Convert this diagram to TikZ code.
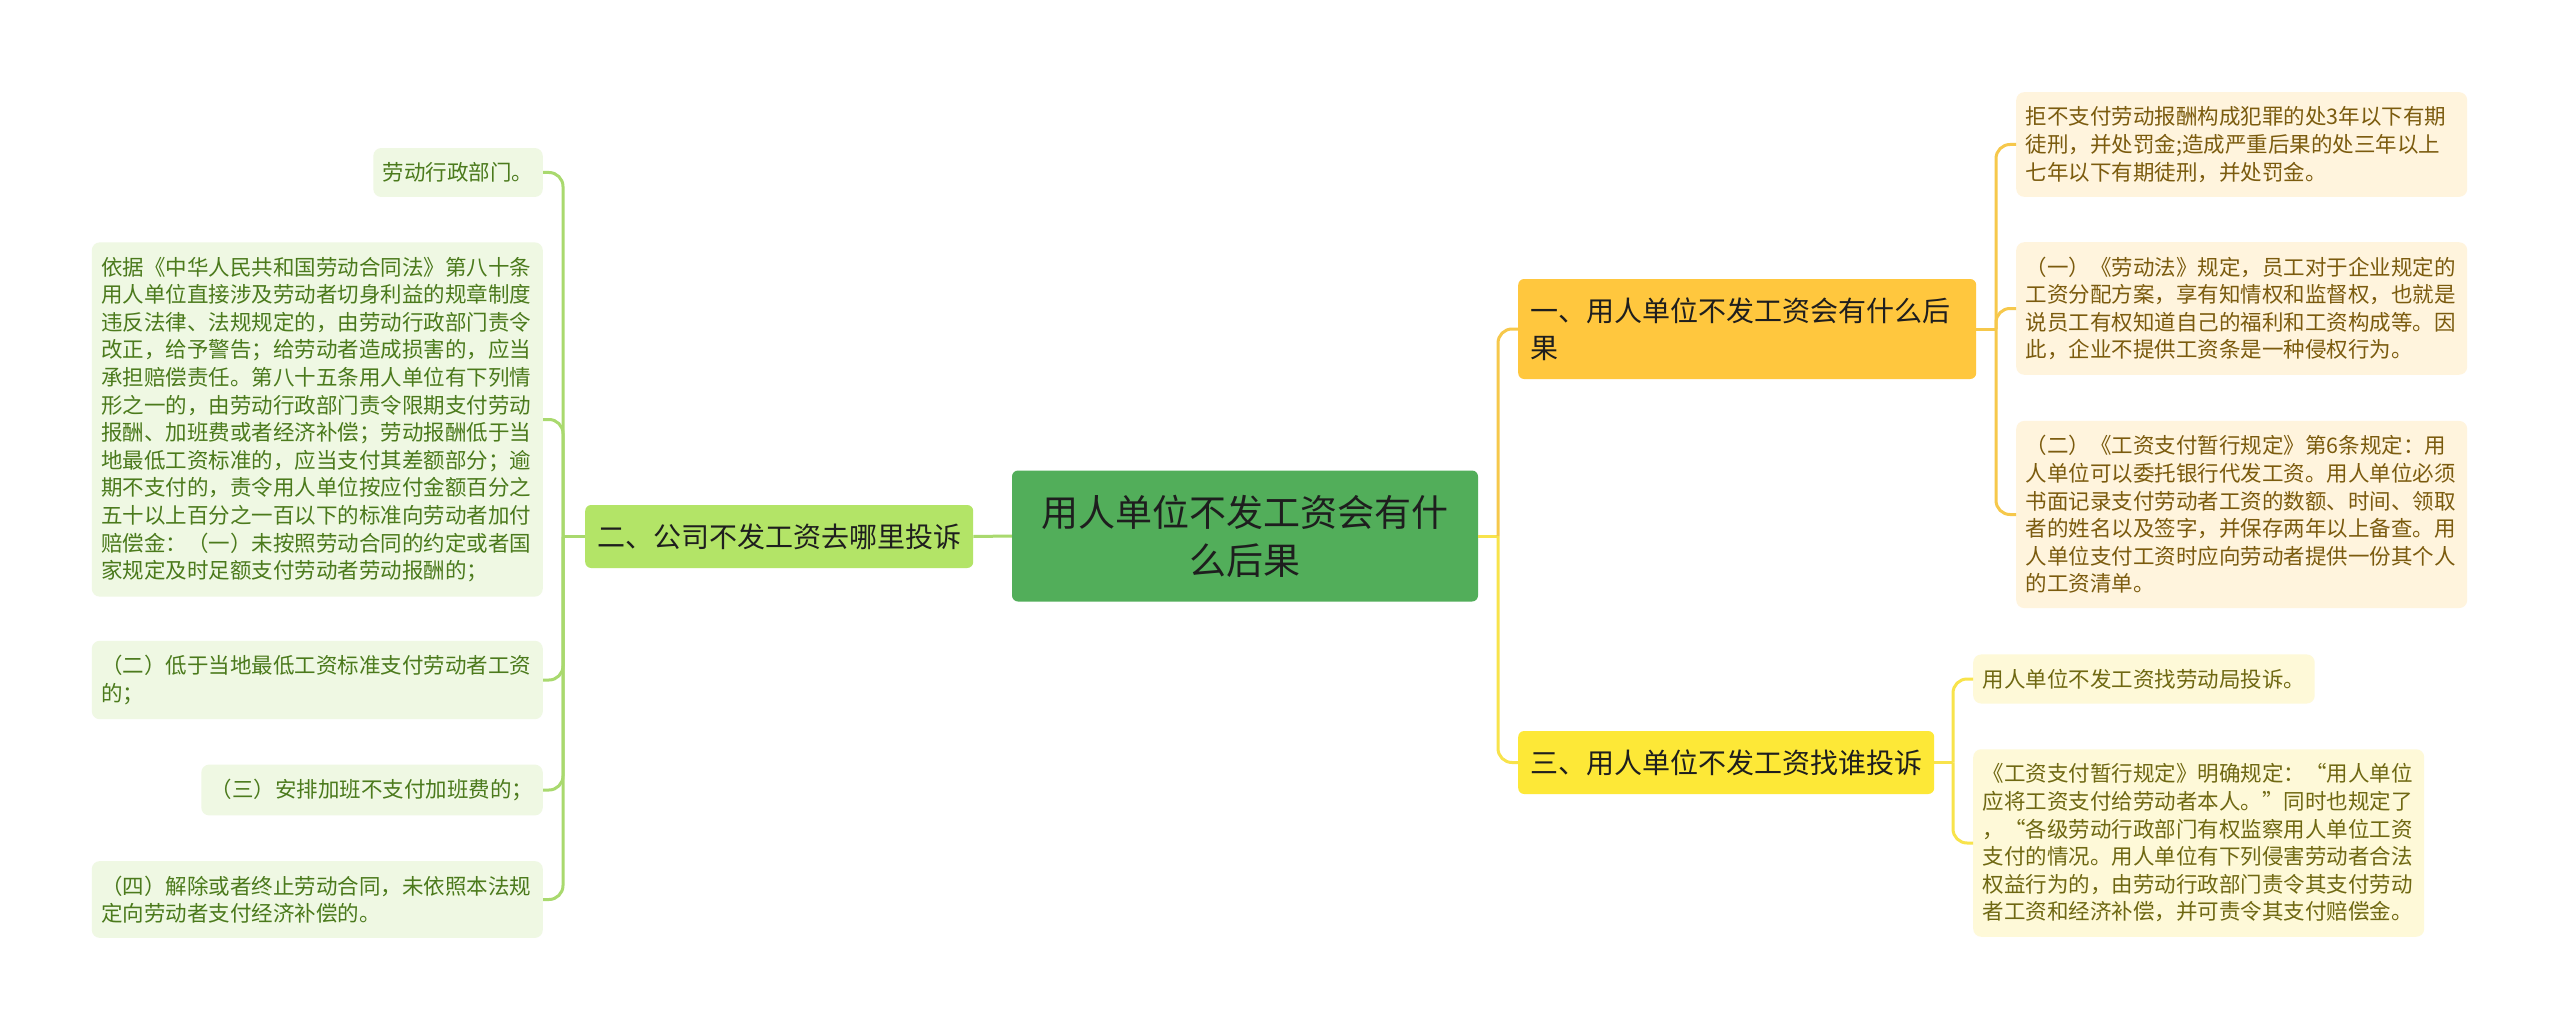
\documentclass[tikz,border=0pt]{standalone}
\usepackage{fontspec}
\setmainfont{Noto Sans CJK SC}
\usepackage{tikz}
\definecolor{rootfill}{HTML}{52AE5A}
\definecolor{limefill}{HTML}{B3E467}
\definecolor{orangefill}{HTML}{FFC73E}
\definecolor{yellowfill}{HTML}{FDE837}
\definecolor{limeleaf}{HTML}{EFF8E3}
\definecolor{orangeleaf}{HTML}{FFF4DD}
\definecolor{yellowleaf}{HTML}{FEF9D8}
\definecolor{limeink}{HTML}{4B7A1C}
\definecolor{orangeink}{HTML}{7B5B0E}
\definecolor{yellowink}{HTML}{6F6812}
\definecolor{darkink}{HTML}{1E1E1E}
\definecolor{limeline}{HTML}{A9D96E}
\definecolor{orangeline}{HTML}{F6C84B}
\definecolor{yellowline}{HTML}{F8E34B}
\tikzset{
	rootbox/.style={fill=rootfill, rounded corners=6pt, minimum width=466pt, minimum height=131pt, align=center, text=darkink, font=\fontsize{37}{48}\selectfont},
	topicbox/.style={rounded corners=6pt, inner xsep=12pt, minimum height=63pt, align=left, text=darkink, font=\fontsize{28}{37}\selectfont, anchor=west},
	leafbox/.style={rounded corners=8pt, inner xsep=9.5pt, inner ysep=14.5pt, align=left, font=\fontsize{21.5}{27.6}\selectfont},
	wide/.style={text width=432pt},
	limeleafbox/.style={leafbox, fill=limeleaf, text=limeink, anchor=east},
	orangeleafbox/.style={leafbox, fill=orangeleaf, text=orangeink, anchor=west},
	yellowleafbox/.style={leafbox, fill=yellowleaf, text=yellowink, anchor=west},
	link/.style={line width=3pt},
	elbowlink/.style={link, rounded corners=14pt}
}

\begin{document}
\begin{tikzpicture}[x=1pt, y=-1pt]
	\useasboundingbox (0,0) rectangle (2560,1030);
	\fill[white] (0,0) rectangle (2560,1030);

	\node (root) at (1245,536) [rootbox] {用人单位不发工资会有什\\么后果};

	\node (q1) at (1518,329) [topicbox, fill=orangefill, text width=434pt, minimum height=100pt] {一、用人单位不发工资会有什么后\\果};
	\node (q2) at (585,536.5) [topicbox, fill=limefill] {二、公司不发工资去哪里投诉};
	\node (q3) at (1518,762.5) [topicbox, fill=yellowfill] {三、用人单位不发工资找谁投诉};

	\node (q1a) at (2016,144.5) [orangeleafbox, wide] {拒不支付劳动报酬构成犯罪的处3年以下有期\\徒刑，并处罚金;造成严重后果的处三年以上\\七年以下有期徒刑，并处罚金。};
	\node (q1b) at (2016,308.5) [orangeleafbox, wide] {（一）《劳动法》规定，员工对于企业规定的\\工资分配方案，享有知情权和监督权，也就是\\说员工有权知道自己的福利和工资构成等。因\\此，企业不提供工资条是一种侵权行为。};
	\node (q1c) at (2016,514.5) [orangeleafbox, wide] {（二）《工资支付暂行规定》第6条规定：用\\人单位可以委托银行代发工资。用人单位必须\\书面记录支付劳动者工资的数额、时间、领取\\者的姓名以及签字，并保存两年以上备查。用\\人单位支付工资时应向劳动者提供一份其个人\\的工资清单。};

	\node (q2a) at (543,172.5) [limeleafbox] {劳动行政部门。};
	\node (q2b) at (543,419.5) [limeleafbox, wide] {依据《中华人民共和国劳动合同法》第八十条\\用人单位直接涉及劳动者切身利益的规章制度\\违反法律、法规规定的，由劳动行政部门责令\\改正，给予警告；给劳动者造成损害的，应当\\承担赔偿责任。第八十五条用人单位有下列情\\形之一的，由劳动行政部门责令限期支付劳动\\报酬、加班费或者经济补偿；劳动报酬低于当\\地最低工资标准的，应当支付其差额部分；逾\\期不支付的，责令用人单位按应付金额百分之\\五十以上百分之一百以下的标准向劳动者加付\\赔偿金：（一）未按照劳动合同的约定或者国\\家规定及时足额支付劳动者劳动报酬的；};
	\node (q2c) at (543,680) [limeleafbox, wide] {（二）低于当地最低工资标准支付劳动者工资\\的；};
	\node (q2d) at (543,790) [limeleafbox] {（三）安排加班不支付加班费的；};
	\node (q2e) at (543,899.5) [limeleafbox, wide] {（四）解除或者终止劳动合同，未依照本法规\\定向劳动者支付经济补偿的。};

	\node (q3a) at (1973,679) [yellowleafbox] {用人单位不发工资找劳动局投诉。};
	\node (q3b) at (1973,843) [yellowleafbox, wide] {《工资支付暂行规定》明确规定：“用人单位\\应将工资支付给劳动者本人。”同时也规定了\\，“各级劳动行政部门有权监察用人单位工资\\支付的情况。用人单位有下列侵害劳动者合法\\权益行为的，由劳动行政部门责令其支付劳动\\者工资和经济补偿，并可责令其支付赔偿金。};

	\coordinate (s0) at (1498,536);
	\coordinate (s1) at (1996,329);
	\coordinate (s2) at (563,536.5);
	\coordinate (s3) at (1953,762.5);

	\draw[link, limeline] (root.west) -- (q2.east);
	\draw[link, yellowline] (root.east) -- (s0);
	\draw[elbowlink, orangeline] (s0) |- (q1.west);
	\draw[elbowlink, yellowline] (s0) |- (q3.west);

	\draw[link, orangeline] (q1.east) -- (s1);
	\draw[elbowlink, orangeline] (s1) |- (q1a.west);
	\draw[elbowlink, orangeline] (s1) |- (q1b.west);
	\draw[elbowlink, orangeline] (s1) |- (q1c.west);

	\draw[link, limeline] (q2.west) -- (s2);
	\draw[elbowlink, limeline] (s2) |- (q2a.east);
	\draw[elbowlink, limeline] (s2) |- (q2b.east);
	\draw[elbowlink, limeline] (s2) |- (q2c.east);
	\draw[elbowlink, limeline] (s2) |- (q2d.east);
	\draw[elbowlink, limeline] (s2) |- (q2e.east);

	\draw[link, yellowline] (q3.east) -- (s3);
	\draw[elbowlink, yellowline] (s3) |- (q3a.west);
	\draw[elbowlink, yellowline] (s3) |- (q3b.west);
\end{tikzpicture}
\end{document}
